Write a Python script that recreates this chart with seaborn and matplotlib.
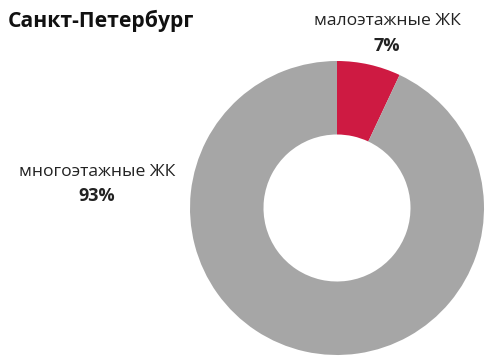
import matplotlib
matplotlib.use("Agg")
import matplotlib.pyplot as plt
import seaborn as sns

categories = ["малоэтажные ЖК", "многоэтажные ЖК"]
values = [7, 93]
pct_labels = ["7%", "93%"]
title = "Санкт-Петербург"
colors = ["#CE1A42", "#A6A6A6"]

sns.set_theme(style="white")
plt.rcParams['font.family'] = ['Open Sans', 'DejaVu Sans']

fig = plt.figure(figsize=(5.0, 3.64), dpi=100)
fig.patch.set_facecolor("white")

cx, cy, r = 337, 208, 147
W, H = 500, 364
ax = fig.add_axes([(cx - r) / W, (H - cy - r) / H, 2 * r / W, 2 * r / H])
ax.pie(values, colors=colors, startangle=90, counterclock=False,
       radius=1.0, wedgeprops=dict(width=0.5, edgecolor="none"))
ax.set_xlim(-1, 1)
ax.set_ylim(-1, 1)
ax.set_aspect("equal")
ax.axis("off")

fig.text(8 / W, 1 - 21 / H, title, fontsize=15.2, fontweight="bold",
         ha="left", va="center", color="#111111")
fig.text(387 / W, 1 - 21 / H, categories[0], fontsize=12.6, ha="center", va="center", color="#222222")
fig.text(387 / W, 1 - 46 / H, pct_labels[0], fontsize=13, fontweight="bold", ha="center", va="center", color="#222222")
fig.text(97 / W, 1 - 172 / H, categories[1], fontsize=12.6, ha="center", va="center", color="#222222")
fig.text(97 / W, 1 - 196 / H, pct_labels[1], fontsize=13, fontweight="bold", ha="center", va="center", color="#222222")

fig.savefig("out.png", dpi=100, facecolor="white")
